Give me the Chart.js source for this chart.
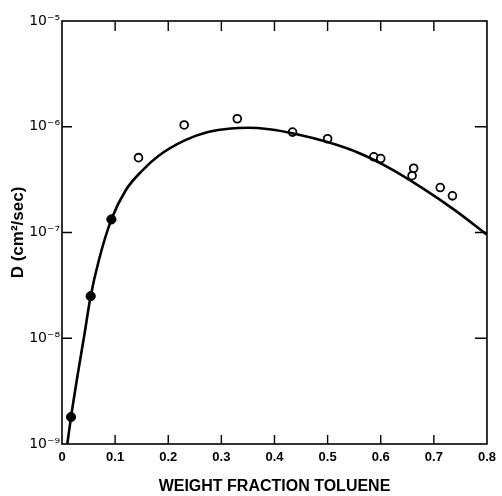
<!DOCTYPE html>
<html><head><meta charset="utf-8">
<script src="https://cdn.jsdelivr.net/npm/chart.js@4/dist/chart.umd.min.js"></script>
<style>html,body{margin:0;padding:0;background:#fff}#wrap{width:502px;height:496px}</style>
</head><body><div id="wrap"><canvas id="c" width="502" height="496"></canvas></div>
<script>
const xTicks = [0, 0.1, 0.2, 0.3, 0.4, 0.5, 0.6, 0.7, 0.8];
const xTickLabels = ['0', '0.1', '0.2', '0.3', '0.4', '0.5', '0.6', '0.7', '0.8'];
const yTicks = [1e-9, 1e-8, 1e-7, 1e-6, 1e-5];
const yTickLabels = ['10⁻⁹', '10⁻⁸', '10⁻⁷', '10⁻⁶', '10⁻⁵'];

const filledX = [0.017, 0.054, 0.093];
const filledD = [1.8e-9, 2.5e-8, 1.33e-7];

const openX = [0.144, 0.230, 0.330, 0.434, 0.500, 0.587, 0.600, 0.659, 0.662, 0.712, 0.735];
const openD = [5.1e-7, 1.04e-6, 1.19e-6, 8.9e-7, 7.7e-7, 5.2e-7, 5.0e-7, 3.45e-7, 4.05e-7, 2.66e-7, 2.22e-7];

const curveX = [0.010, 0.017, 0.030, 0.042, 0.054, 0.070, 0.093, 0.120, 0.151, 0.182, 0.232, 0.275, 0.318, 0.350, 0.390, 0.440, 0.500, 0.560, 0.620, 0.680, 0.740, 0.800];
const curveD = [1.0e-9, 1.8e-9, 4.68e-9, 1.07e-8, 2.51e-8, 5.62e-8, 1.33e-7, 2.51e-7, 3.85e-7, 5.32e-7, 7.48e-7, 8.91e-7, 9.64e-7, 9.77e-7, 9.46e-7, 8.55e-7, 7.16e-7, 5.62e-7, 3.98e-7, 2.60e-7, 1.62e-7, 9.55e-8];

const toPts = (xs, ys) => xs.map((x, i) => ({x: x, y: ys[i]}));

const FONT = "'Liberation Sans', Arial, sans-serif";

const framePlugin = {
  id: 'frame',
  afterDatasetsDraw(chart) {
    const {ctx, chartArea: a, scales} = chart;
    ctx.save();
    ctx.strokeStyle = '#000';
    ctx.lineWidth = 1.6;
    ctx.strokeRect(a.left, a.top, a.right - a.left, a.bottom - a.top);
    ctx.lineWidth = 1.4;
    ctx.beginPath();
    xTicks.forEach(v => {
      const px = scales.x.getPixelForValue(v);
      if (px > a.left + 2 && px < a.right - 2) {
        ctx.moveTo(px, a.bottom); ctx.lineTo(px, a.bottom - 9);
        ctx.moveTo(px, a.top); ctx.lineTo(px, a.top + 10);
      }
    });
    yTicks.forEach(v => {
      const py = scales.y.getPixelForValue(v);
      if (py > a.top + 2 && py < a.bottom - 2) {
        ctx.moveTo(a.left, py); ctx.lineTo(a.left + 10, py);
        ctx.moveTo(a.right, py); ctx.lineTo(a.right - 12, py);
      }
    });
    ctx.stroke();
    ctx.restore();
  }
};

new Chart(document.getElementById('c'), {
  type: 'scatter',
  data: {
    datasets: [
      {
        type: 'line',
        data: toPts(curveX, curveD),
        borderColor: '#000',
        borderWidth: 2.6,
        pointRadius: 0,
        fill: false,
        cubicInterpolationMode: 'monotone'
      },
      {
        data: toPts(filledX, filledD),
        pointRadius: 4.6,
        pointBackgroundColor: '#000',
        pointBorderColor: '#000',
        pointBorderWidth: 1
      },
      {
        data: toPts(openX, openD),
        pointRadius: 3.9,
        pointBackgroundColor: '#fff',
        pointBorderColor: '#000',
        pointBorderWidth: 1.8
      }
    ]
  },
  options: {
    responsive: false,
    devicePixelRatio: 1,
    animation: false,
    layout: {padding: {left: 0, right: 9, top: 21, bottom: 0}},
    plugins: {legend: {display: false}, tooltip: {enabled: false}},
    scales: {
      x: {
        type: 'linear', min: 0, max: 0.8,
        grid: {display: false, drawTicks: false},
        border: {display: false},
        afterBuildTicks: s => { s.ticks = xTicks.map(v => ({value: v})); },
        afterFit: s => { s.height = 52; },
        ticks: {
          color: '#000', padding: 6, maxRotation: 0, autoSkip: false,
          font: {family: FONT, size: 13, weight: 'bold'},
          callback: (v, i) => xTickLabels[i]
        },
        title: {
          display: true, text: 'WEIGHT FRACTION TOLUENE', color: '#000',
          font: {family: FONT, size: 16, weight: 'bold'},
          padding: {top: 0, bottom: 0}
        }
      },
      y: {
        type: 'logarithmic', min: 1e-9, max: 1e-5,
        grid: {display: false, drawTicks: false},
        border: {display: false},
        afterBuildTicks: s => { s.ticks = yTicks.map(v => ({value: v})); },
        afterFit: s => { s.width = 62; },
        ticks: {
          color: '#000', padding: 2, autoSkip: false,
          font: {family: "'DejaVu Sans', sans-serif", size: 14},
          callback: (v, i) => yTickLabels[i]
        },
        title: {
          display: true, text: 'D (cm²/sec)', color: '#000',
          font: {family: FONT, size: 17, weight: 'bold'},
          padding: {top: 8, bottom: 0}
        }
      }
    }
  },
  plugins: [framePlugin]
});
</script></body></html>
